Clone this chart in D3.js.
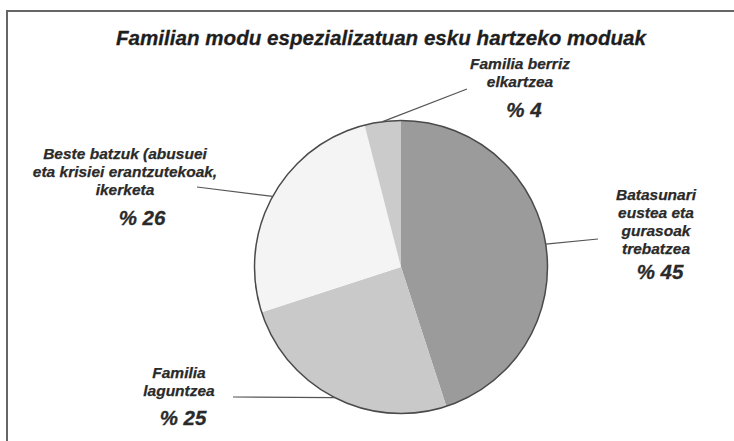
<!DOCTYPE html>
<html>
<head>
<meta charset="utf-8">
<script src="https://cdn.jsdelivr.net/npm/d3@7"></script>
<style>
html,body{margin:0;padding:0;background:#fff;}
svg{display:block;}
</style>
</head>
<body>
<svg id="chart" width="734" height="441"></svg>
<script>
const title = "Familian modu espezializatuan esku hartzeko moduak";
const categories = [
  "Batasunari eustea eta gurasoak trebatzea",
  "Familia laguntzea",
  "Beste batzuk (abusuei eta krisiei erantzutekoak, ikerketa",
  "Familia berriz elkartzea"
];
const values = [45, 25, 26, 4];
const labelLines = [
  ["Batasunari", "eustea eta", "gurasoak", "trebatzea"],
  ["Familia", "laguntzea"],
  ["Beste batzuk (abusuei", "eta krisiei erantzutekoak,", "ikerketa"],
  ["Familia berriz", "elkartzea"]
];
const percentLabels = ["% 45", "% 25", "% 26", "% 4"];
const colors = ["#9b9b9b", "#c9c9c9", "#f4f4f4", "#cbcbcb"];

const svg = d3.select("#chart");
const W = 734, H = 441;
const cx = 401, cy = 267, r = 146.5;

// frame
svg.append("path")
  .attr("d", `M7,${H} L7,11 L${W},11`)
  .attr("fill", "none").attr("stroke", "#666").attr("stroke-width", 2);

// title
svg.append("text")
  .attr("x", 381).attr("y", 45)
  .attr("text-anchor", "middle")
  .attr("font-family", "Liberation Sans, Arial, sans-serif")
  .attr("font-weight", "bold").attr("font-style", "italic")
  .attr("font-size", 21).attr("fill", "#1e1e1e")
  .attr("stroke", "#1e1e1e").attr("stroke-width", 0.3)
  .attr("textLength", 530).attr("lengthAdjust", "spacingAndGlyphs")
  .text(title);

const pie = d3.pie().sort(null).value(d => d)(values);
const arc = d3.arc().innerRadius(0).outerRadius(r);
const edge = d3.arc().innerRadius(r).outerRadius(r);

const g = svg.append("g").attr("transform", `translate(${cx},${cy})`);
g.selectAll("path.slice").data(pie).join("path")
  .attr("class", "slice")
  .attr("d", arc)
  .attr("fill", (d, i) => colors[i]);
g.append("circle").attr("r", r).attr("fill", "none")
  .attr("stroke", "#4a4a4a").attr("stroke-width", 1.5);

// label layout (positions in page coordinates)
const layout = [
  {x: 656, y: 200, px: 660, py: 279, lx: 598, ly: 239},
  {x: 179, y: 378, px: 183, py: 425, lx: 233, ly: 397},
  {x: 125, y: 159, px: 142, py: 225, lx: 197, ly: 187},
  {x: 520, y: 69,  px: 524, py: 117, lx: 467, ly: 89}
];

pie.forEach((d, i) => {
  const c = edge.centroid(d);
  const L = layout[i];
  svg.append("line")
    .attr("x1", L.lx).attr("y1", L.ly)
    .attr("x2", cx + c[0]).attr("y2", cy + c[1])
    .attr("stroke", "#555").attr("stroke-width", 1.2);
  const t = svg.append("text")
    .attr("text-anchor", "middle")
    .attr("font-family", "Liberation Sans, Arial, sans-serif")
    .attr("font-weight", "bold").attr("font-style", "italic")
    .attr("font-size", 15.5).attr("fill", "#2a2a2a")
    .attr("stroke", "#2a2a2a").attr("stroke-width", 0.25);
  labelLines[i].forEach((ln, j) => {
    t.append("tspan").attr("x", L.x).attr("y", L.y + j * 18).text(ln);
  });
  svg.append("text")
    .attr("x", L.px).attr("y", L.py)
    .attr("text-anchor", "middle")
    .attr("font-family", "Liberation Sans, Arial, sans-serif")
    .attr("font-weight", "bold").attr("font-style", "italic")
    .attr("font-size", 20.5).attr("fill", "#2a2a2a")
    .attr("stroke", "#2a2a2a").attr("stroke-width", 0.3)
    .text(percentLabels[i]);
});
</script>
</body>
</html>
